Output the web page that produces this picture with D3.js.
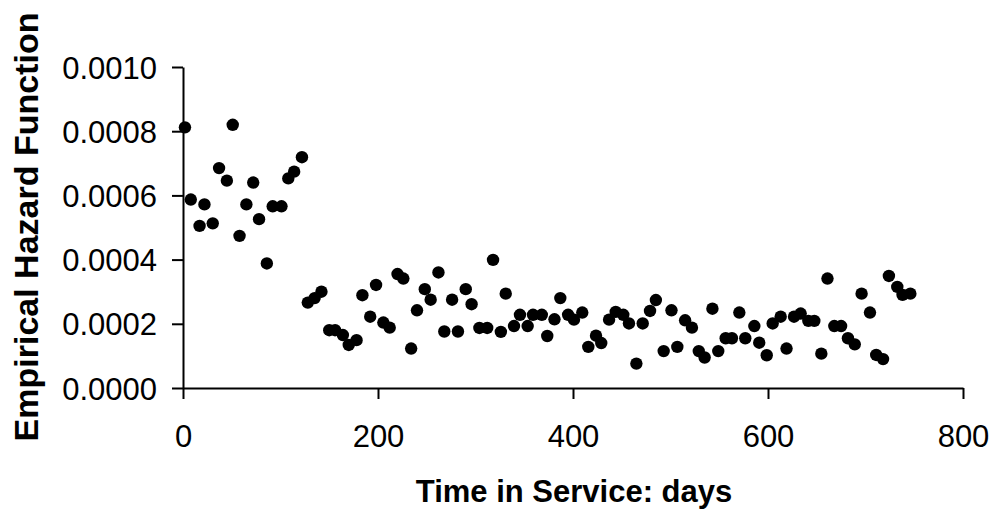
<!DOCTYPE html>
<html>
<head>
<meta charset="utf-8">
<script src="https://cdn.jsdelivr.net/npm/d3@7"></script>
<style>
  html, body { margin: 0; padding: 0; background: #fff; }
  svg { display: block; }
  text { font-family: "Liberation Sans", Arial, Helvetica, sans-serif; fill: #000; }
</style>
</head>
<body>
<svg id="chart" width="994" height="516"></svg>
<script>
// Time in service (days)
const days = [
  2, 8, 17, 22, 30.5, 37, 45, 51, 58, 65, 72, 78, 86, 92, 101, 108, 114, 122,
  128, 135, 142, 150, 156, 164, 170, 178, 184, 192, 198, 205.5, 212, 220, 226, 234,
  240, 248, 254, 262, 268, 276, 282, 290, 296, 304, 312, 318, 326, 331, 339.5, 345.6,
  353.5, 359, 368, 373.6, 381, 387, 395, 401, 409.5, 415.7, 423.6, 429, 437, 443.8,
  451.6, 457.4, 465, 471.5, 479, 485, 493, 501, 507, 515, 522, 529, 535, 543, 549,
  556.6, 563, 570.6, 576.7, 586, 591, 598.7, 604.8, 613, 619, 626.7, 633.5, 641.4,
  647.5, 654.7, 661, 668, 675, 682, 689, 696, 704.6, 711, 718, 724, 732.6, 738, 746
];
// Empirical hazard function values
const hazard = [
  0.000812, 0.000587, 0.000505, 0.000572, 0.000513, 0.000685, 0.000646, 0.000820, 0.000474,
  0.000572, 0.000640, 0.000526, 0.000388, 0.000566, 0.000566, 0.000653, 0.000674, 0.000719,
  0.000266, 0.000280, 0.000300, 0.000180, 0.000180, 0.000165, 0.000134, 0.000149, 0.000289,
  0.000222, 0.000321, 0.000204, 0.000188, 0.000355, 0.000341, 0.000123, 0.000242, 0.000308,
  0.000275, 0.000360, 0.000176, 0.000275, 0.000176, 0.000308, 0.000261, 0.000187, 0.000187,
  0.000399, 0.000175, 0.000294, 0.000193, 0.000228, 0.000193, 0.000228, 0.000228, 0.000162,
  0.000214, 0.000280, 0.000228, 0.000213, 0.000235, 0.000128, 0.000163, 0.000140, 0.000213,
  0.000237, 0.000228, 0.000201, 0.000076, 0.000201, 0.000240, 0.000274, 0.000115, 0.000242,
  0.000128, 0.000211, 0.000188, 0.000115, 0.000095, 0.000247, 0.000115, 0.000155, 0.000155,
  0.000235, 0.000155, 0.000193, 0.000141, 0.000102, 0.000201, 0.000222, 0.000123, 0.000222,
  0.000232, 0.000209, 0.000209, 0.000107, 0.000341, 0.000193, 0.000193, 0.000155, 0.000136,
  0.000294, 0.000235, 0.000103, 0.000090, 0.000349, 0.000315, 0.000290, 0.000294
];
const xTicks = [0, 200, 400, 600, 800];
const yTicks = [0, 0.0002, 0.0004, 0.0006, 0.0008, 0.0010];
const xTitle = "Time in Service: days";
const yTitle = "Empirical Hazard Function";

const svg = d3.select("#chart");
const x = d3.scaleLinear().domain([0, 800]).range([183, 963]);
const y = d3.scaleLinear().domain([0, 0.001]).range([388, 67]);

const xAxis = svg.append("g")
  .attr("transform", `translate(0,${y(0)})`)
  .call(d3.axisBottom(x).tickValues(xTicks).tickFormat(d3.format("d"))
    .tickSize(11).tickSizeOuter(0).tickPadding(26));
const yAxis = svg.append("g")
  .attr("transform", `translate(${x(0)},0)`)
  .call(d3.axisLeft(y).tickValues(yTicks).tickFormat(d3.format(".4f"))
    .tickSize(11).tickSizeOuter(0).tickPadding(15));

[xAxis, yAxis].forEach(g => {
  g.select(".domain").attr("stroke", "#000").attr("stroke-width", 2);
  g.selectAll(".tick line").attr("stroke", "#000").attr("stroke-width", 2);
  g.selectAll(".tick text").attr("font-size", 31)
    .attr("font-family", "'Liberation Sans', Arial, sans-serif").attr("fill", "#000");
});
yAxis.selectAll(".tick text").attr("dy", "0.36em");

svg.append("g").selectAll("circle")
  .data(days.map((d, i) => [d, hazard[i]]))
  .join("circle")
  .attr("cx", d => x(d[0]))
  .attr("cy", d => y(d[1]))
  .attr("r", 6.2)
  .attr("fill", "#000");

svg.append("text")
  .attr("x", 574).attr("y", 502)
  .attr("text-anchor", "middle")
  .attr("font-size", 31).attr("font-weight", "bold")
  .text(xTitle);

svg.append("text")
  .attr("transform", "translate(38,227) rotate(-90)")
  .attr("text-anchor", "middle")
  .attr("font-size", 34).attr("font-weight", "bold")
  .text(yTitle);
</script>
</body>
</html>
